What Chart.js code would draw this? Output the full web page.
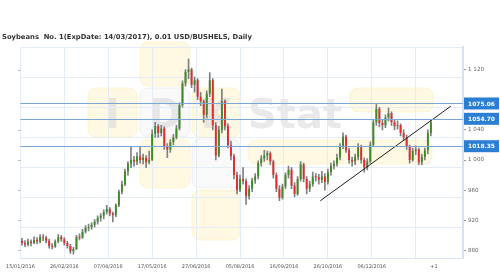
<!DOCTYPE html>
<html>
<head>
<meta charset="utf-8">
<script src="https://cdn.jsdelivr.net/npm/chart.js@4.4.0/dist/chart.umd.min.js"></script>
<style>
  html, body { margin: 0; padding: 0; background: #fff; }
  #wrap { width: 500px; height: 280px; position: relative; }
  canvas { display: block; }
</style>
</head>
<body>
<div id="wrap"><canvas id="chart" width="500" height="280" style="width:500px;height:280px"></canvas></div>
<script>
(() => {
    "use strict";

    const title = "Soybeans  No. 1(ExpDate: 14/03/2017), 0.01 USD/BUSHELS, Daily";

    // x axis: candle index; one candle per ~2 sessions
    const tickPos = [-0.5, 14, 28.5, 43, 57.5, 72, 86.5, 101, 115.5, 130, 136];
    const tickText = ["15/01/2016", "26/02/2016", "07/04/2016", "17/05/2016", "27/06/2016",
        "05/08/2016", "16/09/2016", "26/10/2016", "06/12/2016", "", "+1"];

    // 1 080 sits under the 1075.06 label box, so it is not shown
    const yLabels = [880, 920, 960, 1000, 1040, 1120];
    const yGrid = [870, 910, 950, 990, 1030, 1070, 1110, 1150];

    const opens = [
        893, 890, 888, 892, 890, 894, 892, 898, 897, 893,
        886, 885, 892, 898, 895, 890, 886, 879, 882, 898,
        897, 905, 910, 911, 914, 918, 923, 926, 931, 935,
        929, 927, 940, 958, 968, 985, 995, 1000, 998, 1005,
        1000, 1003, 997, 1000, 1035, 1045, 1036, 1042, 1018, 1014,
        1024, 1030, 1042, 1073, 1102, 1117, 1120, 1100, 1106, 1084,
        1078, 1060, 1088, 1106, 1046, 1006, 1040, 1078, 1045, 1020,
        1005, 980, 960, 975, 972, 952, 962, 973, 978, 996,
        1002, 1006, 1009, 998, 980, 962, 950, 965, 980, 987,
        966, 955, 975, 994, 975, 962, 968, 978, 977, 974,
        978, 971, 984, 992, 995, 1003, 1018, 1031, 1013, 1000,
        998, 1004, 1017, 1000, 990, 998, 1020, 1050, 1068, 1049,
        1046, 1056, 1062, 1050, 1045, 1046, 1036, 1030, 1018, 1000,
        1012, 1014, 997, 1004, 1013, 1036
    ];
    const highs = [
        896, 893, 895, 894, 898, 897, 901, 901, 899, 895,
        889, 894, 901, 900, 897, 892, 888, 884, 900, 902,
        908, 913, 915, 917, 921, 926, 929, 934, 940, 937,
        931, 942, 960, 972, 988, 998, 1018, 1005, 1010, 1018,
        1008, 1006, 1012, 1040, 1050, 1047, 1046, 1044, 1022, 1027,
        1034, 1046, 1076, 1105, 1120, 1134, 1122, 1110, 1108, 1090,
        1080, 1092, 1116, 1108, 1050, 1045, 1094, 1080, 1048, 1025,
        1008, 984, 980, 990, 975, 966, 976, 982, 999, 1006,
        1013, 1012, 1011, 1000, 983, 966, 968, 983, 992, 990,
        970, 978, 998, 996, 978, 972, 984, 982, 981, 985,
        982, 988, 996, 999, 1008, 1022, 1036, 1033, 1016, 1004,
        1008, 1022, 1020, 1003, 1002, 1024, 1054, 1075, 1070, 1054,
        1060, 1069, 1064, 1054, 1052, 1048, 1040, 1033, 1020, 1016,
        1019, 1016, 1008, 1016, 1040, 1053
    ];
    const lows = [
        887, 885, 886, 886, 889, 889, 890, 893, 890, 883,
        882, 884, 890, 892, 887, 883, 876, 875, 881, 894,
        896, 903, 906, 908, 911, 915, 919, 922, 928, 926,
        918, 925, 938, 955, 966, 980, 990, 992, 994, 996,
        995, 990, 995, 999, 1030, 1030, 1032, 1014, 1003, 1010,
        1020, 1028, 1040, 1070, 1098, 1108, 1096, 1090, 1080, 1072,
        1050, 1056, 1084, 1040, 1000, 1004, 1036, 1040, 1016, 1000,
        975, 955, 958, 968, 941, 948, 958, 969, 975, 992,
        998, 1000, 994, 976, 958, 946, 948, 962, 976, 962,
        951, 953, 972, 971, 955, 958, 965, 972, 968, 970,
        960, 968, 980, 988, 992, 1000, 1015, 1010, 996, 992,
        994, 1000, 996, 984, 987, 996, 1018, 1046, 1044, 1040,
        1043, 1052, 1046, 1040, 1041, 1032, 1026, 1014, 996, 998,
        1007, 994, 994, 1000, 1008, 1032
    ];
    const closes = [
        890, 888, 892, 890, 894, 892, 898, 897, 893, 886,
        885, 892, 898, 895, 890, 886, 879, 882, 898, 897,
        905, 910, 911, 914, 918, 923, 926, 931, 935, 929,
        927, 940, 958, 968, 985, 995, 1000, 998, 1005, 1000,
        1003, 997, 1000, 1035, 1045, 1036, 1042, 1018, 1014, 1024,
        1030, 1042, 1073, 1102, 1117, 1120, 1100, 1106, 1084, 1078,
        1060, 1088, 1106, 1046, 1006, 1040, 1078, 1045, 1020, 1005,
        980, 960, 975, 972, 952, 962, 973, 978, 996, 1002,
        1006, 1009, 998, 980, 962, 950, 965, 980, 987, 966,
        955, 975, 994, 975, 962, 968, 978, 977, 974, 978,
        971, 984, 992, 995, 1003, 1018, 1031, 1013, 1000, 998,
        1004, 1017, 1000, 990, 998, 1020, 1050, 1068, 1049, 1046,
        1056, 1062, 1050, 1045, 1046, 1036, 1030, 1018, 1000, 1012,
        1014, 997, 1004, 1013, 1036, 1050
    ];

    const levels = [1075.06, 1054.70, 1018.35];
    const trendX = [98.5, 141.6];
    const trendY = [946, 1071.5];

    const UP = "#3d8b27", DOWN = "#e8292b", WICK = "#808080";
    const GRID = "#e4edf7";

    const fmt = (v) => String(v).replace(/\B(?=(\d{3})+(?!\d))/g, " ");

    const watermark = {
        id: "watermark",
        beforeDraw(chart) {
            const c = chart.ctx;
            const tile = (x, y, w, h, fill, stroke) => {
                c.beginPath();
                c.roundRect(x, y, w, h, 8);
                c.fillStyle = fill;
                c.fill();
                c.strokeStyle = stroke;
                c.lineWidth = 1;
                c.stroke();
            };
            c.save();
            const Y = "rgba(255,245,210,0.6)", YB = "rgba(248,230,170,0.45)";
            const W = "rgba(245,245,245,0.6)", WB = "rgba(228,228,228,0.5)";
            tile(140, 42, 50, 44, Y, YB);
            tile(88, 88, 49, 49, Y, YB);
            tile(140, 88, 50, 49, W, WB);
            tile(192, 88, 48, 49, Y, YB);
            tile(140, 139, 50, 49, Y, YB);
            tile(192, 139, 48, 49, W, WB);
            tile(192, 190, 48, 50, Y, YB);
            tile(350, 88, 83, 24, Y, YB);
            tile(248, 140, 184, 24, Y, YB);
            c.fillStyle = "rgba(212,212,212,0.5)";
            c.font = "bold 40px 'DejaVu Sans'";
            c.textBaseline = "alphabetic";
            c.textAlign = "center";
            c.fillText("I", 112.5, 128);
            c.fillText("D", 165, 128);
            c.fillText("K", 216, 128);
            c.textAlign = "left";
            c.fillText("Stat", 248, 128);
            c.restore();
        }
    };

    const overlay = {
        id: "overlay",
        afterDatasetsDraw(chart) {
            const c = chart.ctx;
            const area = chart.chartArea;
            const ys = chart.scales.y;
            c.save();
            levels.forEach((lv) => {
                const py = Math.round(ys.getPixelForValue(lv)) + 0.5;
                c.strokeStyle = "#7aa6d8";
                c.lineWidth = 1;
                c.beginPath();
                c.moveTo(area.left, py);
                c.lineTo(area.right, py);
                c.stroke();
            });
            // short marks on the left edge
            c.strokeStyle = "#aaa";
            yLabels.forEach((v) => {
                const py = Math.round(ys.getPixelForValue(v)) + 0.5;
                c.beginPath();
                c.moveTo(area.left - 2, py);
                c.lineTo(area.left, py);
                c.stroke();
            });
            c.restore();
        },
        afterDraw(chart) {
            const c = chart.ctx;
            const area = chart.chartArea;
            const ys = chart.scales.y;
            c.save();
            levels.forEach((lv) => {
                const py = ys.getPixelForValue(lv);
                c.fillStyle = "#2b7fd2";
                c.fillRect(area.right + 1, py - 6, 35, 12);
                c.fillStyle = "#ffffff";
                c.font = "bold 5.9px 'DejaVu Sans'";
                c.textAlign = "center";
                c.textBaseline = "middle";
                c.fillText(lv.toFixed(2), area.right + 18.5, py + 0.5);
            });
            c.fillStyle = "#333";
            c.font = "bold 6.8px 'DejaVu Sans'";
            c.textAlign = "left";
            c.textBaseline = "middle";
            c.fillText(title, 2, 37);
            c.restore();
        }
    };

    const canvas = document.getElementById("chart");
    // @ts-ignore
    new Chart(canvas, {
        type: "bar",
        data: {
            datasets: [
                {
                    label: "wick",
                    order: 3,
                    grouped: false,
                    data: closes.map((c, i) => ({ x: i, y: [lows[i], highs[i]] })),
                    backgroundColor: WICK,
                    barThickness: 1,
                    borderWidth: 0,
                },
                {
                    label: "body",
                    order: 2,
                    grouped: false,
                    data: closes.map((c, i) => ({ x: i, y: [opens[i], c] })),
                    backgroundColor: (ctx) => closes[ctx.dataIndex] >= opens[ctx.dataIndex] ? UP : DOWN,
                    barPercentage: 0.62,
                    categoryPercentage: 1,
                    borderWidth: 0,
                    minBarLength: 1,
                },
                {
                    type: "line",
                    label: "trend",
                    order: 1,
                    data: trendX.map((x, i) => ({ x, y: trendY[i] })),
                    borderColor: "#1f1f1f",
                    borderWidth: 1,
                    pointRadius: 0,
                    fill: false,
                },
            ],
        },
        options: {
            responsive: false,
            devicePixelRatio: 1,
            animation: false,
            layout: { padding: { top: 47, left: 16, right: 0, bottom: 0 } },
            plugins: {
                legend: { display: false },
                tooltip: { enabled: false },
                title: { display: false },
            },
            scales: {
                x: {
                    type: "linear",
                    offset: false,
                    min: -0.5,
                    max: 145.6,
                    afterBuildTicks: (s) => { s.ticks = tickPos.map((v) => ({ value: v })); },
                    afterFit: (s) => { s.height = 22; },
                    ticks: {
                        autoSkip: false,
                        maxRotation: 0,
                        padding: 6,
                        color: "#555",
                        font: { family: "DejaVu Sans", size: 5 },
                        callback: (v, i) => tickText[i],
                    },
                    grid: {
                        offset: false,
                        color: (ctx) => (ctx.index === tickPos.length - 1 ? "rgba(0,0,0,0)" : GRID),
                        tickLength: 0,
                    },
                    border: { color: "#d6e4f2" },
                },
                y: {
                    position: "right",
                    min: 870,
                    max: 1150,
                    afterBuildTicks: (s) => {
                        s.ticks = yGrid.concat(yLabels).sort((a, b) => a - b).map((v) => ({ value: v }));
                    },
                    afterFit: (s) => { s.width = 37; },
                    ticks: {
                        autoSkip: false,
                        padding: 2,
                        color: "#666",
                        font: { family: "DejaVu Sans", size: 5.6 },
                        callback: (v) => (yLabels.includes(v) ? fmt(v) : ""),
                    },
                    grid: {
                        color: (ctx) => (ctx.tick && yGrid.includes(ctx.tick.value) ? GRID : "rgba(0,0,0,0)"),
                        tickColor: (ctx) => (ctx.tick && yLabels.includes(ctx.tick.value) ? "#999" : "rgba(0,0,0,0)"),
                        tickLength: 3,
                    },
                    border: { color: "#d3e3f3", width: 2 },
                },
            },
        },
        plugins: [watermark, overlay],
    });
})();
</script>
</body>
</html>
